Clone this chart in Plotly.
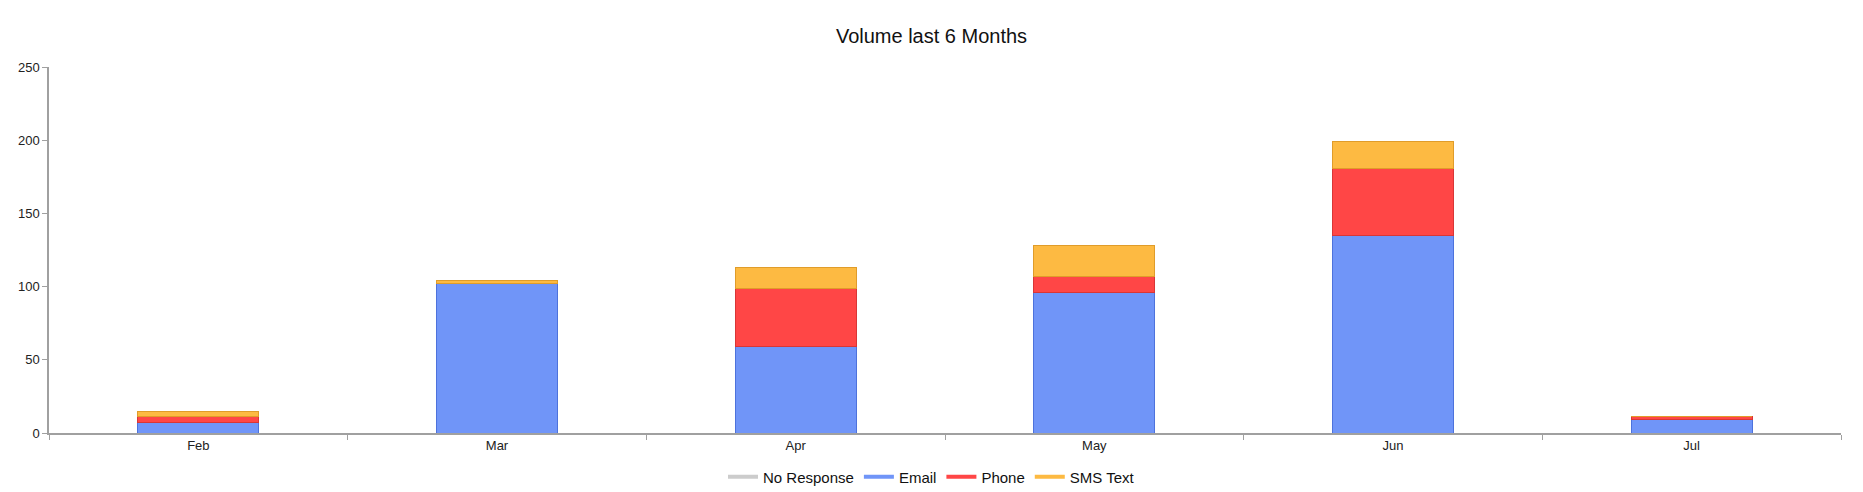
import plotly.graph_objs as go

# monthly volume by channel
months = ["Feb", "Mar", "Apr", "May", "Jun", "Jul"]
no_response = [0, 0, 0, 0, 0, 0]
email = [7, 102, 59, 96, 135, 9]
phone = [4, 0, 40, 11, 46, 2]
sms_text = [4, 2, 14, 21, 18, 0]

series = [
    ("No Response", no_response, "#cccccc", "#b0b0b0"),
    ("Email", email, "#7095f8", "#4d72dc"),
    ("Phone", phone, "#ff4646", "#d93636"),
    ("SMS Text", sms_text, "#fdba42", "#e09c2a"),
]

data = []
for name, vals, col, edge in series:
    data.append(go.Bar(x=months, y=vals, name=name, showlegend=False,
                       marker=dict(color=col, line=dict(color=edge, width=1))))
    # line-style legend entries like the original
    data.append(go.Scatter(x=[None], y=[None], mode="lines", name=name,
                           line=dict(color=col, width=4)))

# page body has an 8px margin, so size the figure to fit inside it
W, H = 1847, 484

fig = go.Figure(data=data)
fig.update_layout(
    width=W, height=H,
    barmode="stack", bargap=0.595,
    plot_bgcolor="white", paper_bgcolor="white",
    font=dict(family="Liberation Sans, Arial", size=13, color="#222"),
    margin=dict(l=41, r=14, t=59, b=59, autoexpand=False),
    title=dict(text="Volume last 6 Months", x=0.5, xref="container",
               y=1 - 27.5 / H, yref="container", yanchor="middle",
               font=dict(size=20, color="#111")),
    legend=dict(orientation="h", x=0.5, xanchor="center", xref="container",
                y=15 / H, yref="container", yanchor="middle",
                font=dict(size=15, color="#111"), itemwidth=30,
                traceorder="normal"),
)
fig.update_xaxes(showline=True, linecolor="#a0a0a0", linewidth=1.5,
                 ticks="outside", tickson="boundaries", ticklen=5,
                 tickcolor="#a0a0a0", showgrid=False, automargin=False)
fig.update_yaxes(range=[0, 250], dtick=50, showline=True, linecolor="#a0a0a0",
                 linewidth=1.5, ticks="outside", ticklen=5, tickcolor="#a0a0a0",
                 showgrid=False, zeroline=False, automargin=False)

fig.write_html("out.html")
